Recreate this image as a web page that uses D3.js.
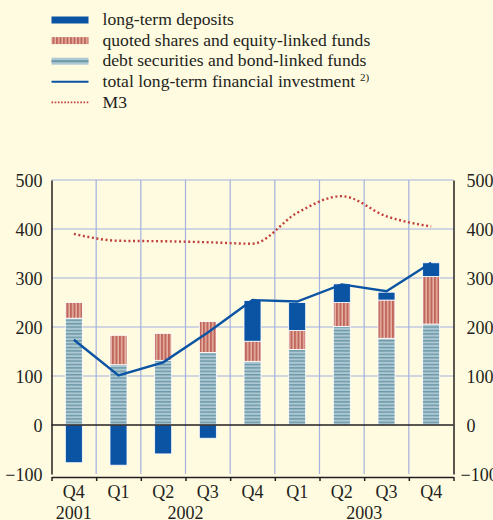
<!DOCTYPE html>
<html>
<head>
<meta charset="utf-8">
<script src="https://cdn.jsdelivr.net/npm/d3@7"></script>
<style>
  html, body { margin: 0; padding: 0; background: #fffbe0; }
  svg { display: block; font-family: "Liberation Serif", "Times New Roman", serif; }
  .tick text { fill: #231f20; }
</style>
</head>
<body>
<svg id="chart" width="493" height="520"></svg>
<script>
// quarters 2001 Q4 .. 2003 Q4
var quarters = ["Q4", "Q1", "Q2", "Q3", "Q4", "Q1", "Q2", "Q3", "Q4"];
var yearLabels = ["2001", "2002", "2003"];
var yearSpans = [[0, 0], [1, 4], [5, 8]];

var debt     = [218, 123, 132, 148, 130, 154, 201, 177, 206];
var shares   = [32, 60, 55, 63, 41, 39, 49, 78, 97];
var deposits = [-77, -82, -59, -27, 83, 57, 38, 16, 28];
var total    = [174, 101, 128, 189, 255, 252, 287, 273, 331];
var m3       = [390, 376, 375, 373, 370, 433, 467, 426, 405];

var yTicks = [-100, 0, 100, 200, 300, 400, 500];

var legendItems = [
  "long-term deposits",
  "quoted shares and equity-linked funds",
  "debt securities and bond-linked funds",
  "total long-term financial investment",
  "M3"
];

var blue = "#0b53a3", red = "#c0403c", grid = "#a3b0e0", ink = "#231f20";
var serif = '"Liberation Serif", "Times New Roman", serif';

var svg = d3.select("#chart");
var left = 51.5, right = 453.5;

var y = d3.scaleLinear().domain([-100, 500]).range([474, 180]);
var x = d3.scaleBand().domain(d3.range(quarters.length)).range([left, right]);
var xEdge = d3.scaleLinear().domain([0, quarters.length]).range([left, right]);
var barW = 17;
var cx = function(i) { return x(i) + x.bandwidth() / 2; };

// patterns
var defs = svg.append("defs");
var pShares = defs.append("pattern").attr("id", "pShares")
  .attr("patternUnits", "userSpaceOnUse").attr("width", 3.5).attr("height", 10);
pShares.append("rect").attr("width", 3.5).attr("height", 10).attr("fill", "#e6b2a6");
pShares.append("rect").attr("width", 2).attr("height", 10).attr("fill", "#c0675b");

var pDebt = defs.append("pattern").attr("id", "pDebt")
  .attr("patternUnits", "userSpaceOnUse").attr("width", 10).attr("height", 3.4);
pDebt.append("rect").attr("width", 10).attr("height", 3.4).attr("fill", "#adc8d2");
pDebt.append("rect").attr("width", 10).attr("height", 1.4).attr("fill", "#6b98a8");

// gridlines
svg.append("g").selectAll("line")
  .data(yTicks.filter(function(d) { return d > 0; }))
  .join("line")
    .attr("x1", left).attr("x2", right)
    .attr("y1", function(d) { return y(d); }).attr("y2", function(d) { return y(d); })
    .attr("stroke", grid).attr("stroke-width", 1.2);

svg.append("g").selectAll("line")
  .data(d3.range(1, quarters.length))
  .join("line")
    .attr("x1", function(d) { return xEdge(d); }).attr("x2", function(d) { return xEdge(d); })
    .attr("y1", y(500)).attr("y2", y(-100))
    .attr("stroke", grid).attr("stroke-width", 1.2);

// bars
var bars = svg.append("g").attr("stroke", "#fff").attr("stroke-width", 0.8);
function seg(cls, fill, lo, hi) {
  bars.selectAll("rect." + cls)
    .data(d3.range(quarters.length))
    .join("rect")
      .attr("class", cls)
      .attr("x", function(i) { return cx(i) - barW / 2; })
      .attr("width", barW)
      .attr("y", function(i) { return y(Math.max(lo(i), hi(i))); })
      .attr("height", function(i) { return Math.abs(y(lo(i)) - y(hi(i))); })
      .attr("fill", fill);
}
seg("debt", "url(#pDebt)", function() { return 0; }, function(i) { return debt[i]; });
seg("shares", "url(#pShares)", function(i) { return debt[i]; }, function(i) { return debt[i] + shares[i]; });
seg("dep", blue,
  function(i) { return deposits[i] < 0 ? 0 : debt[i] + shares[i]; },
  function(i) { return deposits[i] < 0 ? deposits[i] : debt[i] + shares[i] + deposits[i]; });

// zero line
svg.append("line")
  .attr("x1", left).attr("x2", right)
  .attr("y1", y(0)).attr("y2", y(0))
  .attr("stroke", ink).attr("stroke-width", 1.5);

// lines
svg.append("path")
  .datum(m3)
  .attr("fill", "none").attr("stroke", red).attr("stroke-width", 2.4)
  .attr("stroke-dasharray", "2,2.6")
  .attr("d", d3.line().x(function(d, i) { return cx(i); }).y(function(d) { return y(d); })
    .curve(d3.curveMonotoneX));

svg.append("path")
  .datum(total)
  .attr("fill", "none").attr("stroke", blue).attr("stroke-width", 2.4)
  .attr("d", d3.line().x(function(d, i) { return cx(i); }).y(function(d) { return y(d); }));

// y axes
var yl = svg.append("g").attr("transform", "translate(" + left + ",0)")
  .call(d3.axisLeft(y).tickValues(yTicks).tickSize(0).tickPadding(9));
var yr = svg.append("g").attr("transform", "translate(" + right + ",0)")
  .call(d3.axisRight(y).tickValues(yTicks).tickSize(0).tickPadding(13));
[yl, yr].forEach(function(g) {
  g.attr("font-family", serif).attr("font-size", 18);
  g.select(".domain").attr("stroke", ink).attr("stroke-width", 1.5);
  g.selectAll("text").attr("dy", "0.35em");
});
yr.selectAll("text").attr("dx", function(d) { return d < 0 ? -6 : 0; });

// bottom axis with bracket ticks
var xb = svg.append("g").attr("transform", "translate(0," + (y(-100) + 3) + ")")
  .call(d3.axisBottom(xEdge).tickValues(d3.range(quarters.length + 1)).tickSize(4).tickSizeOuter(0).tickFormat(""));
xb.select(".domain").attr("stroke", ink).attr("stroke-width", 1.5);
xb.selectAll(".tick line").attr("stroke", ink).attr("stroke-width", 1.5);

var xl = svg.append("g").attr("font-size", 18).attr("fill", ink).attr("text-anchor", "middle");
xl.selectAll("text.q")
  .data(quarters)
  .join("text").attr("class", "q")
    .attr("x", function(d, i) { return cx(i); })
    .attr("y", 498)
    .text(function(d) { return d; });
xl.selectAll("text.yr")
  .data(yearLabels)
  .join("text").attr("class", "yr")
    .attr("x", function(d, i) { return (cx(yearSpans[i][0]) + cx(yearSpans[i][1])) / 2; })
    .attr("y", 519)
    .text(function(d) { return d; });

// legend
var lg = svg.append("g");
var rowY = function(i) { return 20 + i * 20.6; };
var sx0 = 51.5, sx1 = 88.5;
lg.append("rect").attr("x", sx0).attr("y", rowY(0) - 3.5).attr("width", sx1 - sx0).attr("height", 7).attr("fill", blue);
lg.append("rect").attr("x", sx0).attr("y", rowY(1) - 3.5).attr("width", sx1 - sx0).attr("height", 7).attr("fill", "url(#pShares)");
lg.append("rect").attr("x", sx0).attr("y", rowY(2) - 3.5).attr("width", sx1 - sx0).attr("height", 7).attr("fill", "#adc8d2");
lg.append("rect").attr("x", sx0).attr("y", rowY(2) - 1).attr("width", sx1 - sx0).attr("height", 2).attr("fill", "#6b98a8");
lg.append("line").attr("x1", sx0).attr("x2", sx1).attr("y1", rowY(3)).attr("y2", rowY(3))
  .attr("stroke", blue).attr("stroke-width", 2);
lg.append("line").attr("x1", sx0).attr("x2", sx1).attr("y1", rowY(4)).attr("y2", rowY(4))
  .attr("stroke", red).attr("stroke-width", 1.6).attr("stroke-dasharray", "1.6,1.6");

var lt = lg.selectAll("text")
  .data(legendItems)
  .join("text")
    .attr("x", 102.5)
    .attr("y", function(d, i) { return rowY(i) + 5.2; })
    .attr("font-size", 17.6)
    .attr("fill", ink)
    .text(function(d) { return d; });
lt.filter(function(d, i) { return i === 3; })
  .append("tspan").attr("dx", 5).attr("dy", -6).attr("font-size", 11).text("2)");
</script>
</body>
</html>
